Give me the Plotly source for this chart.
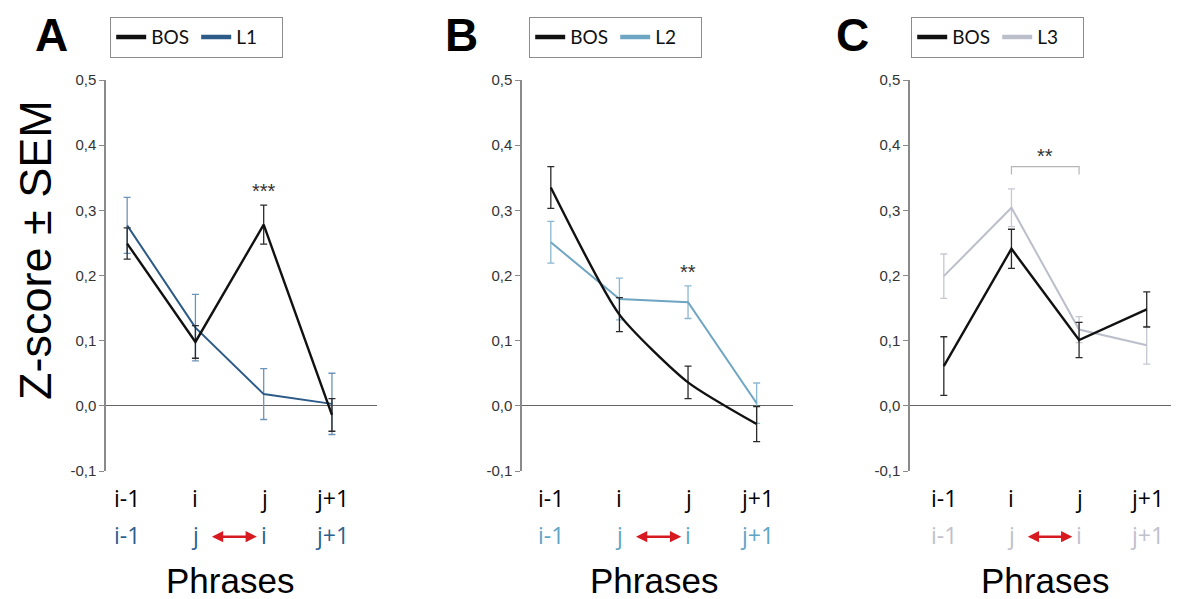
import plotly.graph_objects as go

# ---------------- data ----------------
phrases_top = ["i-1", "i", "j", "j+1"]
phrases_swapped = ["i-1", "j", "i", "j+1"]

A_bos = [0.249, 0.098, 0.278, -0.014]
A_bos_err = [0.024, 0.025, 0.030, 0.025]
A_l1 = [0.277, 0.120, 0.018, 0.003]
A_l1_err = [0.043, 0.051, 0.039, 0.047]

B_bos = [0.335, 0.140, 0.036, -0.028]
B_bos_err = [0.032, 0.026, 0.025, 0.027]
B_l2 = [0.251, 0.164, 0.159, 0.004]
B_l2_err = [0.032, 0.032, 0.025, 0.031]

C_bos = [0.061, 0.241, 0.101, 0.148]
C_bos_err = [0.045, 0.030, 0.027, 0.027]
C_l3 = [0.199, 0.304, 0.117, 0.093]
C_l3_err = [0.034, 0.029, 0.020, 0.029]

y_tickvals = [-0.1, 0.0, 0.1, 0.2, 0.3, 0.4, 0.5]
y_ticktext = ["-0,1", "0,0", "0,1", "0,2", "0,3", "0,4", "0,5"]

# ---------------- style ----------------
OFF = 8                      # page body margin
W, H = 1179 - OFF, 599 - OFF


def px(x):
    return (x - OFF) / W


def py(y):
    return 1 - (y - OFF) / H


BLACK = "#111111"
panels = [
    dict(letter="A", name="L1", bos=A_bos, bos_err=A_bos_err, cmp=A_l1, cmp_err=A_l1_err,
         color="#2d5b87", errcolor="#6f93b8", labcolor="#2d5f8f",
         xdom=[px(106), px(377)], xr=[-0.31, 3.66], legx=px(110), letx=px(52), spline=False),
    dict(letter="B", name="L2", bos=B_bos, bos_err=B_bos_err, cmp=B_l2, cmp_err=B_l2_err,
         color="#6ea5c2", errcolor="#8ab8d0", labcolor="#5fa4c6",
         xdom=[px(522), px(793)], xr=[-0.42, 3.53], legx=px(529), letx=px(461), spline=True),
    dict(letter="C", name="L3", bos=C_bos, bos_err=C_bos_err, cmp=C_l3, cmp_err=C_l3_err,
         color="#bcbecb", errcolor="#c6c8d2", labcolor="#bfc1cc",
         xdom=[px(910), 0.999], xr=[-0.5, 3.46], legx=px(911), letx=px(852), spline=False),
]
ydom = [py(471), py(80)]

fig = go.Figure()
layout = dict(width=W, height=H, margin=dict(l=0, r=0, t=0, b=0, autoexpand=False),
              paper_bgcolor="white", plot_bgcolor="white", showlegend=True)
annotations = []
shapes = []
xs = list(range(len(phrases_top)))

for k, p in enumerate(panels):
    sfx = "" if k == 0 else str(k + 1)
    xa, ya = "x" + sfx, "y" + sfx
    leg = "legend" + sfx
    # comparator line
    fig.add_trace(go.Scatter(
        x=xs, y=p["cmp"], mode="lines", xaxis=xa, yaxis=ya, showlegend=False,
        line=dict(color=p["color"], width=2),
        error_y=dict(type="data", array=p["cmp_err"], color=p["errcolor"], thickness=1.3, width=3.5)))
    # BOS line
    fig.add_trace(go.Scatter(
        x=xs, y=p["bos"], mode="lines", xaxis=xa, yaxis=ya, showlegend=False,
        line=dict(color=BLACK, width=2.4, shape="spline" if p["spline"] else "linear", smoothing=0.6),
        error_y=dict(type="data", array=p["bos_err"], color="#2a2a2a", thickness=1.3, width=3.5)))
    # legend samples
    fig.add_trace(go.Scatter(x=[None], y=[None], mode="lines", name="BOS", xaxis=xa, yaxis=ya,
                             legend=leg, line=dict(color=BLACK, width=4.5)))
    fig.add_trace(go.Scatter(x=[None], y=[None], mode="lines", name=p["name"], xaxis=xa, yaxis=ya,
                             legend=leg, line=dict(color=p["color"], width=4.5)))

    layout["xaxis" + sfx] = dict(domain=p["xdom"], range=p["xr"], anchor=ya, showline=False,
                                 showgrid=False, zeroline=False, showticklabels=False, ticks="")
    layout["yaxis" + sfx] = dict(domain=ydom, range=[-0.1, 0.5], anchor=xa, showline=True,
                                 linecolor="#8a8a8a", linewidth=1.5, ticks="outside", ticklen=5,
                                 tickcolor="#8a8a8a", tickvals=y_tickvals, ticktext=y_ticktext,
                                 showgrid=False, zeroline=True, zerolinecolor="#666666",
                                 zerolinewidth=1.2,
                                 tickfont=dict(family="Liberation Sans, Arial", size=15, color="#333333"))
    layout[leg] = dict(x=p["legx"], y=py(17), xanchor="left", yanchor="top", orientation="h",
                       bgcolor="white", bordercolor="#8c8c8c", borderwidth=1.2,
                       font=dict(family="Lato, Open Sans", size=19, color="#111111"),
                       itemwidth=30, tracegroupgap=0, entrywidth=40, entrywidthmode="pixels")

    # panel letter
    annotations.append(dict(text="<b>%s</b>" % p["letter"], xref="paper", yref="paper",
                            x=p["letx"], y=py(35), showarrow=False,
                            xanchor="center", yanchor="middle", borderpad=0,
                            font=dict(family="Liberation Sans, Arial", size=46, color="black")))
    # category labels (two rows) and axis title
    for i in xs:
        annotations.append(dict(text=phrases_top[i], xref=xa, yref=ya + " domain", x=i, y=-0.069,
                                showarrow=False, xanchor="center", yanchor="middle",
                                font=dict(family="Open Sans", size=23, color="black")))
        annotations.append(dict(text=phrases_swapped[i], xref=xa, yref=ya + " domain", x=i, y=-0.164,
                                showarrow=False, xanchor="center", yanchor="middle",
                                font=dict(family="Open Sans", size=23, color=p["labcolor"])))
    # red double arrow between swapped phrases
    mid = (xs[1] + xs[2]) / 2 + 0.06
    annotations.append(dict(text="", xref=xa, yref=ya + " domain", x=mid + 0.34, y=-0.168,
                            axref=xa, ayref=ya + " domain", ax=mid - 0.34, ay=-0.168,
                            showarrow=True, arrowhead=2, arrowside="end+start", arrowsize=0.9,
                            arrowwidth=2.5, arrowcolor="#d71920"))
    annotations.append(dict(text="Phrases", xref=xa, yref=ya + " domain", x=1.5, y=-0.279,
                            showarrow=False, xanchor="center", yanchor="middle",
                            font=dict(family="Liberation Sans, Arial", size=35, color="black")))

# significance markers
annotations.append(dict(text="***", xref="x", yref="y", x=2, y=A_bos[2] + A_bos_err[2] + 0.022,
                        showarrow=False, font=dict(family="Liberation Sans", size=20, color="#333")))
annotations.append(dict(text="**", xref="x2", yref="y2", x=2, y=B_l2[2] + B_l2_err[2] + 0.022,
                        showarrow=False, font=dict(family="Liberation Sans", size=20, color="#333")))
yb = C_l3[1] + C_l3_err[1] + 0.034
shapes.append(dict(type="path", xref="x3", yref="y3",
                   path="M 1,%f L 1,%f L 2,%f L 2,%f" % (yb - 0.012, yb, yb, yb - 0.012),
                   line=dict(color="#b5b5b5", width=1.2)))
annotations.append(dict(text="**", xref="x3", yref="y3", x=1.5, y=yb + 0.016,
                        showarrow=False, font=dict(family="Liberation Sans", size=20, color="#333")))

# y axis title (panel A only)
annotations.append(dict(text="Z-score ± SEM", xref="paper", yref="paper", x=px(35), y=py(250),
                        textangle=-90, showarrow=False, xanchor="center", yanchor="middle",
                        font=dict(family="Liberation Sans, Arial", size=45, color="black")))

layout["annotations"] = annotations
layout["shapes"] = shapes
fig.update_layout(**layout)
fig.write_html("out.html")
